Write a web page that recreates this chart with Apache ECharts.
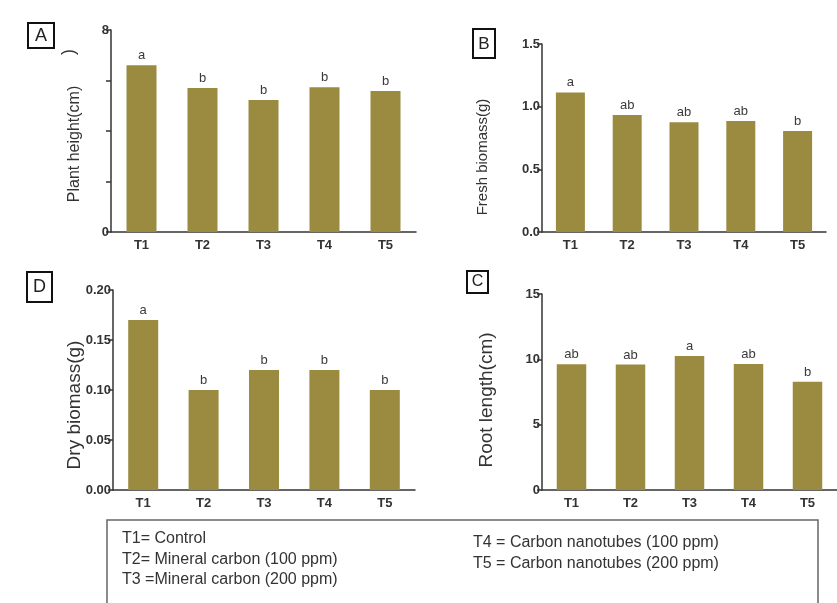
<!DOCTYPE html>
<html><head><meta charset="utf-8">
<script src="https://cdn.jsdelivr.net/npm/echarts@6/dist/echarts.min.js"></script>
<style>html,body{margin:0;padding:0;background:#fff}#c{width:837px;height:603px}</style>
</head><body><div id="c"></div>
<script>
const categories = ['T1','T2','T3','T4','T5'];
const plantHeight = [6.6, 5.7, 5.23, 5.73, 5.58];
const plantLetters = ['a','b','b','b','b'];
const freshBiomass = [1.114, 0.934, 0.875, 0.886, 0.806];
const freshLetters = ['a','ab','ab','ab','b'];
const dryBiomass = [0.17, 0.10, 0.12, 0.12, 0.10];
const dryLetters = ['a','b','b','b','b'];
const rootLength = [9.62, 9.6, 10.25, 9.64, 8.29];
const rootLetters = ['ab','ab','a','ab','b'];
const plantTicks = ['0','8'];
const legendLines1 = ['T1= Control','T2= Mineral carbon (100 ppm)','T3 =Mineral carbon (200 ppm)'];
const legendLines2 = ['T4 = Carbon nanotubes (100 ppm)','T5 = Carbon nanotubes (200 ppm)'];

const FONT = '"Liberation Sans", Arial, sans-serif';
const BAR = '#9b8b40';
const AX = '#333';

const grids = [
  {left:111, top:30, width:305, height:202},
  {left:542, top:44, width:284, height:188},
  {left:113, top:290, width:302, height:200},
  {left:542, top:294, width:296, height:196}
];
const yCfg = [
  {max:8, interval:2, fmt:v => plantTicks.indexOf(String(v))>=0 ? String(v) : ''},
  {max:1.5, interval:0.5, fmt:v => v.toFixed(1)},
  {max:0.2, interval:0.05, fmt:v => v.toFixed(2)},
  {max:15, interval:5, fmt:v => String(v)}
];
const seriesData = [plantHeight, freshBiomass, dryBiomass, rootLength];
const seriesLetters = [plantLetters, freshLetters, dryLetters, rootLetters];
const barW = [30, 29, 30, 29.5];

const option = {
  animation:false,
  backgroundColor:'#fff',
  grid: grids,
  xAxis: grids.map((g,i)=>({
    type:'category', gridIndex:i, data:categories,
    axisLine:{lineStyle:{color:AX,width:1.5}},
    axisTick:{alignWithLabel:true,length:4,lineStyle:{color:AX,width:1.5}},
    axisLabel:{color:AX,fontFamily:FONT,fontWeight:'bold',fontSize:13,margin:7}
  })),
  yAxis: grids.map((g,i)=>({
    type:'value', gridIndex:i, min:0, max:yCfg[i].max, interval:yCfg[i].interval,
    splitLine:{show:false},
    axisLine:{show:true,lineStyle:{color:AX,width:1.5}},
    axisTick:{show:true,length:5,lineStyle:{color:AX,width:1.5}},
    axisLabel:{color:AX,fontFamily:FONT,fontWeight:'bold',fontSize:13,margin:2,formatter:yCfg[i].fmt}
  })),
  series: seriesData.map((d,i)=>({
    type:'bar', xAxisIndex:i, yAxisIndex:i, data:d, barWidth:barW[i],
    itemStyle:{color:BAR},
    label:{show:true,position:'top',distance:3,color:'#3a3a3a',fontFamily:FONT,fontSize:13,
      formatter:p=>seriesLetters[i][p.dataIndex]}
  })),
  graphic: [
    // y axis titles
    {type:'text',x:75,y:144,rotation:Math.PI/2,style:{text:'Plant height(cm)',font:'16px '+FONT,fill:'#333',align:'center',verticalAlign:'middle'}},
    {type:'text',x:483,y:157,rotation:Math.PI/2,style:{text:'Fresh biomass(g)',font:'15px '+FONT,fill:'#333',align:'center',verticalAlign:'middle'}},
    {type:'text',x:75,y:405,rotation:Math.PI/2,style:{text:'Dry biomass(g)',font:'19px '+FONT,fill:'#333',align:'center',verticalAlign:'middle'}},
    {type:'text',x:487,y:400,rotation:Math.PI/2,style:{text:'Root length(cm)',font:'19px '+FONT,fill:'#333',align:'center',verticalAlign:'middle'}},
    {type:'text',x:69,y:52,rotation:Math.PI/2,style:{text:')',font:'18px '+FONT,fill:'#333',align:'center',verticalAlign:'middle'}},
    // panel labels
    {type:'rect',shape:{x:28,y:23,width:26,height:25},style:{fill:'none',stroke:'#111',lineWidth:2}},
    {type:'text',x:41,y:36,style:{text:'A',font:'18px '+FONT,fill:'#222',align:'center',verticalAlign:'middle'}},
    {type:'rect',shape:{x:473,y:29,width:22,height:29},style:{fill:'none',stroke:'#111',lineWidth:2}},
    {type:'text',x:484,y:44,style:{text:'B',font:'17px '+FONT,fill:'#222',align:'center',verticalAlign:'middle'}},
    {type:'rect',shape:{x:27,y:272,width:25,height:30},style:{fill:'none',stroke:'#111',lineWidth:2}},
    {type:'text',x:39.5,y:287,style:{text:'D',font:'18px '+FONT,fill:'#222',align:'center',verticalAlign:'middle'}},
    {type:'rect',shape:{x:467,y:271,width:21,height:22},style:{fill:'none',stroke:'#111',lineWidth:2}},
    {type:'text',x:477.5,y:282,style:{text:'C',font:'16px '+FONT,fill:'#222',align:'center',verticalAlign:'middle'}},
    // legend box
    {type:'rect',shape:{x:107,y:520,width:711,height:100},style:{fill:'none',stroke:'#666',lineWidth:1.5}},
  ].concat(
    legendLines1.map((t,k)=>({type:'text',x:122,y:539+k*20.5,style:{text:t,font:'16px '+FONT,fill:'#333',align:'left',verticalAlign:'middle'}})),
    legendLines2.map((t,k)=>({type:'text',x:473,y:543+k*21,style:{text:t,font:'16px '+FONT,fill:'#333',align:'left',verticalAlign:'middle'}}))
  )
};
echarts.init(document.getElementById('c'),null,{renderer:'canvas'}).setOption(option);
</script></body></html>
